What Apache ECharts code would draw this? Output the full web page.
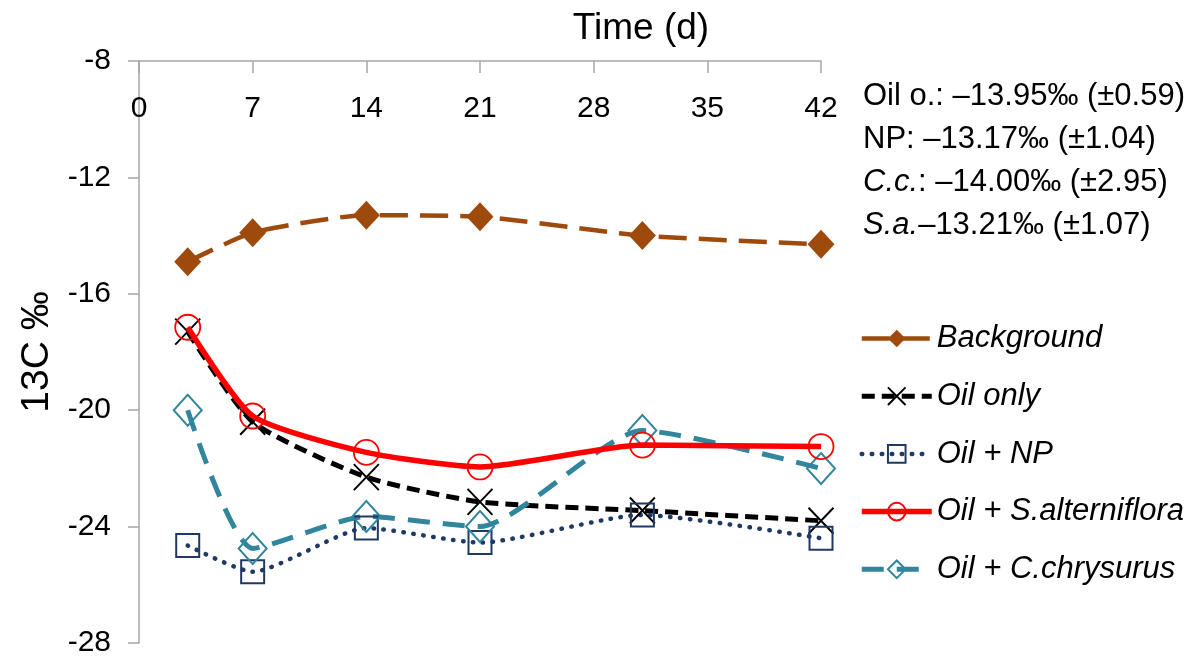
<!DOCTYPE html>
<html>
<head>
<meta charset="utf-8">
<script src="https://cdn.jsdelivr.net/npm/echarts@6/dist/echarts.min.js"></script>
<style>
  html, body { margin: 0; padding: 0; background: #fff; }
  #chart { width: 1201px; height: 658px; }
</style>
</head>
<body>
<div id="chart"></div>
<script>
// sampling days
var days = [3, 7, 14, 21, 31, 42];

// 13C values per treatment
var background = [-14.9, -13.9, -13.3, -13.35, -14.0, -14.3];
var oilOnly = [-17.3, -20.4, -22.3, -23.15, -23.45, -23.8];
var oilNP = [-24.65, -25.55, -24.05, -24.55, -23.6, -24.4];
var oilSalt = [-17.15, -20.2, -21.45, -21.95, -21.2, -21.25];
var oilCchry = [-20.0, -24.75, -23.65, -24.0, -20.7, -22.0];

var xTicks = [0, 7, 14, 21, 28, 35, 42];
var yTicks = [-28, -24, -20, -16, -12, -8];

var seriesNames = ['Background', 'Oil only', 'Oil + NP', 'Oil + S.alterniflora', 'Oil + C.chrysurus'];

var notes = [
    'Oil o.: \u201313.95\u2030 (\u00b10.59)',
    'NP: \u201313.17\u2030 (\u00b11.04)',
    '{i|C.c.}: \u201314.00\u2030 (\u00b12.95)',
    '{i|S.a.}\u201313.21\u2030 (\u00b11.07)'
];

var FONT = 'Liberation Sans, Arial, sans-serif';

function pairs(ys) {
    var out = [];
    for (var i = 0; i < days.length; i++) {
        out.push([days[i], ys[i]]);
    }
    return out;
}

var chart = echarts.init(document.getElementById('chart'));

var option = {
    backgroundColor: '#fff',
    animation: false,
    textStyle: { fontFamily: FONT },
    title: {
        text: 'Time (d)',
        left: 636,
        top: 5,
        textAlign: 'center',
        textStyle: { fontFamily: FONT, fontSize: 37, fontWeight: 'normal', color: '#000' }
    },
    grid: { left: 139, right: 380, top: 61, bottom: 15 },
    legend: {
        orient: 'vertical',
        left: 854,
        top: 318,
        itemWidth: 70,
        itemHeight: 22,
        itemGap: 26.7,
        data: [
            { name: seriesNames[0], lineStyle: { width: 4.5 } },
            { name: seriesNames[1], lineStyle: { width: 5 } },
            { name: seriesNames[2], lineStyle: { width: 4.5 } },
            { name: seriesNames[3], lineStyle: { width: 5.5 } },
            { name: seriesNames[4], lineStyle: { width: 5 } }
        ],
        textStyle: { fontFamily: FONT, fontSize: 31, fontStyle: 'italic', color: '#000', lineHeight: 30 }
    },
    graphic: [{
        type: 'text',
        left: 863,
        top: 75,
        style: {
            text: notes.join('\n'),
            font: '31px ' + FONT,
            fill: '#000',
            lineHeight: 43,
            rich: {
                i: { fontStyle: 'italic', fontSize: 31, fontFamily: FONT, lineHeight: 43 }
            }
        }
    }],
    xAxis: {
        type: 'value',
        position: 'top',
        min: xTicks[0],
        max: xTicks[xTicks.length - 1],
        interval: 7,
        axisLine: { show: true, lineStyle: { color: '#a6a6a6', width: 1.5 } },
        axisTick: { show: true, inside: true, length: 12, lineStyle: { color: '#a6a6a6', width: 1.5 } },
        axisLabel: { inside: true, margin: 33, fontSize: 30, color: '#000', fontFamily: FONT },
        splitLine: { show: false }
    },
    yAxis: {
        type: 'value',
        min: yTicks[0],
        max: yTicks[yTicks.length - 1],
        interval: 4,
        name: '13C \u2030',
        nameLocation: 'middle',
        nameRotate: 90,
        nameGap: 82,
        nameTextStyle: { fontSize: 39, color: '#000', fontFamily: FONT },
        axisLine: { show: true, lineStyle: { color: '#a6a6a6', width: 1.5 } },
        axisTick: { show: true, length: 11, lineStyle: { color: '#a6a6a6', width: 1.5 } },
        axisLabel: { margin: 28, fontSize: 30, color: '#000', fontFamily: FONT },
        splitLine: { show: false }
    },
    series: [
        {
            name: seriesNames[0],
            type: 'line',
            smooth: 0.2,
            data: pairs(background),
            symbol: 'diamond',
            symbolSize: [27, 29],
            itemStyle: { color: '#9E4A0C' },
            lineStyle: { color: '#9E4A0C', width: 4.5, type: [28, 12] },
            z: 2
        },
        {
            name: seriesNames[1],
            type: 'line',
            smooth: 0.2,
            data: pairs(oilOnly),
            symbol: 'path://M0,0L10,10M10,0L0,10',
            symbolSize: [25, 26],
            itemStyle: { color: 'rgba(0,0,0,0)', borderColor: '#000', borderWidth: 2 },
            lineStyle: { color: '#000', width: 5, type: [13, 7] },
            z: 3
        },
        {
            name: seriesNames[2],
            type: 'line',
            smooth: 0.2,
            data: pairs(oilNP),
            symbol: 'rect',
            symbolSize: 23,
            itemStyle: { color: 'rgba(0,0,0,0)', borderColor: '#1F3864', borderWidth: 2 },
            lineStyle: { color: '#1F3864', width: 4.5, type: [0.5, 9.5], cap: 'round' },
            z: 3
        },
        {
            name: seriesNames[3],
            type: 'line',
            smooth: 0.2,
            data: pairs(oilSalt),
            symbol: 'circle',
            symbolSize: 25,
            itemStyle: { color: 'rgba(0,0,0,0)', borderColor: '#FF0000', borderWidth: 1.8 },
            lineStyle: { color: '#FF0000', width: 5.5 },
            z: 4
        },
        {
            name: seriesNames[4],
            type: 'line',
            smooth: 0.2,
            data: pairs(oilCchry),
            symbol: 'diamond',
            symbolSize: [28, 31],
            itemStyle: { color: 'rgba(0,0,0,0)', borderColor: '#31859C', borderWidth: 2 },
            lineStyle: { color: '#31859C', width: 5, type: [22, 13] },
            z: 3
        }
    ]
};

chart.setOption(option);
</script>
</body>
</html>
